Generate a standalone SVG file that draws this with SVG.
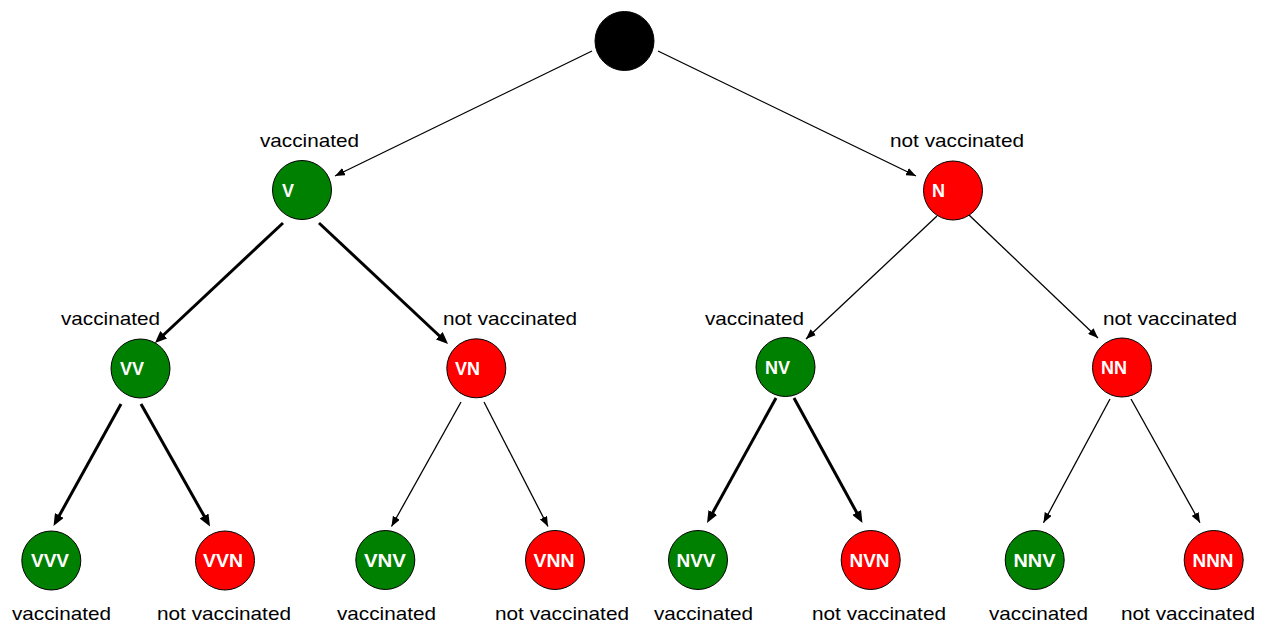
<svg xmlns="http://www.w3.org/2000/svg" width="1265" height="625" viewBox="0 0 1265 625">
<style>
.g{fill:#008000;stroke:#000;stroke-width:1}
.r{fill:#ff0000;stroke:#000;stroke-width:1}
.k{fill:#000;stroke:#000;stroke-width:1}
.t{font-family:"Liberation Sans",Arial,sans-serif;font-weight:bold;font-size:18px;fill:#fff}
.l{font-family:"Liberation Sans",Arial,sans-serif;font-size:19px;fill:#000}
.thin{stroke:#000;stroke-width:1.3;fill:none;marker-end:url(#ah)}
.thick{stroke:#000;stroke-width:3;fill:none;marker-end:url(#ahb)}
</style>
<defs>
<marker id="ah" markerUnits="userSpaceOnUse" markerWidth="10" markerHeight="8" refX="10" refY="4" orient="auto"><path d="M0,0 L10,4 L0,8 z" fill="#000"/></marker>
<marker id="ahb" markerUnits="userSpaceOnUse" markerWidth="12" markerHeight="10" refX="4" refY="5" orient="auto"><path d="M0,0 L12,5 L0,10 z" fill="#000"/></marker>
</defs>
<rect width="1265" height="625" fill="#fff"/>
<g id="connectors">
<line class="thin" x1="592" y1="51" x2="335" y2="176"/>
<line class="thin" x1="658" y1="51" x2="916" y2="176"/>
<line class="thick" x1="283" y1="223" x2="160.8" y2="337.5"/>
<line class="thick" x1="319" y1="223" x2="442.2" y2="338.5"/>
<line class="thin" x1="937" y1="216" x2="806" y2="339"/>
<line class="thin" x1="969" y1="215" x2="1098" y2="338"/>
<line class="thick" x1="121" y1="404" x2="57.4" y2="519"/>
<line class="thick" x1="141" y1="404" x2="206.1" y2="519.5"/>
<line class="thin" x1="461" y1="402" x2="391.5" y2="526.5"/>
<line class="thin" x1="484" y1="402" x2="548" y2="526.5"/>
<line class="thick" x1="776" y1="398" x2="710.9" y2="516"/>
<line class="thick" x1="794" y1="398" x2="858.6" y2="516"/>
<line class="thin" x1="1110" y1="399" x2="1043.5" y2="522.7"/>
<line class="thin" x1="1131" y1="399" x2="1200" y2="522.7"/>
</g>
<g id="root"><circle class="k" cx="624.5" cy="41" r="29.5"/></g>
<g id="V"><circle class="g" cx="302" cy="190" r="29.5"/><text class="t" x="282" y="197">V</text><text class="l" x="260" y="147" textLength="99" lengthAdjust="spacingAndGlyphs">vaccinated</text></g>
<g id="N"><circle class="r" cx="953" cy="190.5" r="29.5"/><text class="t" x="932" y="197">N</text><text class="l" x="890" y="147" textLength="134" lengthAdjust="spacingAndGlyphs">not vaccinated</text></g>
<g id="VV"><circle class="g" cx="140.5" cy="368.5" r="29.5"/><text class="t" x="120" y="375">VV</text><text class="l" x="61" y="325" textLength="99" lengthAdjust="spacingAndGlyphs">vaccinated</text></g>
<g id="VN"><circle class="r" cx="476.3" cy="368.3" r="29.5"/><text class="t" x="455" y="375">VN</text><text class="l" x="443" y="325" textLength="134" lengthAdjust="spacingAndGlyphs">not vaccinated</text></g>
<g id="NV"><circle class="g" cx="785.5" cy="367" r="29.5"/><text class="t" x="765" y="374">NV</text><text class="l" x="705" y="325" textLength="99" lengthAdjust="spacingAndGlyphs">vaccinated</text></g>
<g id="NN"><circle class="r" cx="1122" cy="367.5" r="29.5"/><text class="t" x="1101" y="374">NN</text><text class="l" x="1103" y="325" textLength="134" lengthAdjust="spacingAndGlyphs">not vaccinated</text></g>
<g id="VVV"><circle class="g" cx="51.3" cy="560.5" r="29.5"/><text class="t" x="31" y="567" textLength="38" lengthAdjust="spacingAndGlyphs">VVV</text><text class="l" x="12" y="620" textLength="99" lengthAdjust="spacingAndGlyphs">vaccinated</text></g>
<g id="VVN"><circle class="r" cx="225" cy="560.5" r="29.5"/><text class="t" x="203" y="567" textLength="40" lengthAdjust="spacingAndGlyphs">VVN</text><text class="l" x="157" y="620" textLength="134" lengthAdjust="spacingAndGlyphs">not vaccinated</text></g>
<g id="VNV"><circle class="g" cx="385.3" cy="560" r="29.5"/><text class="t" x="364" y="567" textLength="42" lengthAdjust="spacingAndGlyphs">VNV</text><text class="l" x="337" y="620" textLength="99" lengthAdjust="spacingAndGlyphs">vaccinated</text></g>
<g id="VNN"><circle class="r" cx="555" cy="560" r="29.5"/><text class="t" x="533.5" y="567" textLength="41" lengthAdjust="spacingAndGlyphs">VNN</text><text class="l" x="495" y="620" textLength="134" lengthAdjust="spacingAndGlyphs">not vaccinated</text></g>
<g id="NVV"><circle class="g" cx="698" cy="560" r="29.5"/><text class="t" x="676.5" y="567" textLength="39" lengthAdjust="spacingAndGlyphs">NVV</text><text class="l" x="654" y="620" textLength="99" lengthAdjust="spacingAndGlyphs">vaccinated</text></g>
<g id="NVN"><circle class="r" cx="870.7" cy="560" r="29.5"/><text class="t" x="849.5" y="567" textLength="40" lengthAdjust="spacingAndGlyphs">NVN</text><text class="l" x="812" y="620" textLength="134" lengthAdjust="spacingAndGlyphs">not vaccinated</text></g>
<g id="NNV"><circle class="g" cx="1034.7" cy="560" r="29.5"/><text class="t" x="1013.5" y="567" textLength="42" lengthAdjust="spacingAndGlyphs">NNV</text><text class="l" x="989" y="620" textLength="99" lengthAdjust="spacingAndGlyphs">vaccinated</text></g>
<g id="NNN"><circle class="r" cx="1213.7" cy="560" r="29.5"/><text class="t" x="1192.5" y="567" textLength="41" lengthAdjust="spacingAndGlyphs">NNN</text><text class="l" x="1121" y="620" textLength="134" lengthAdjust="spacingAndGlyphs">not vaccinated</text></g>
</svg>
